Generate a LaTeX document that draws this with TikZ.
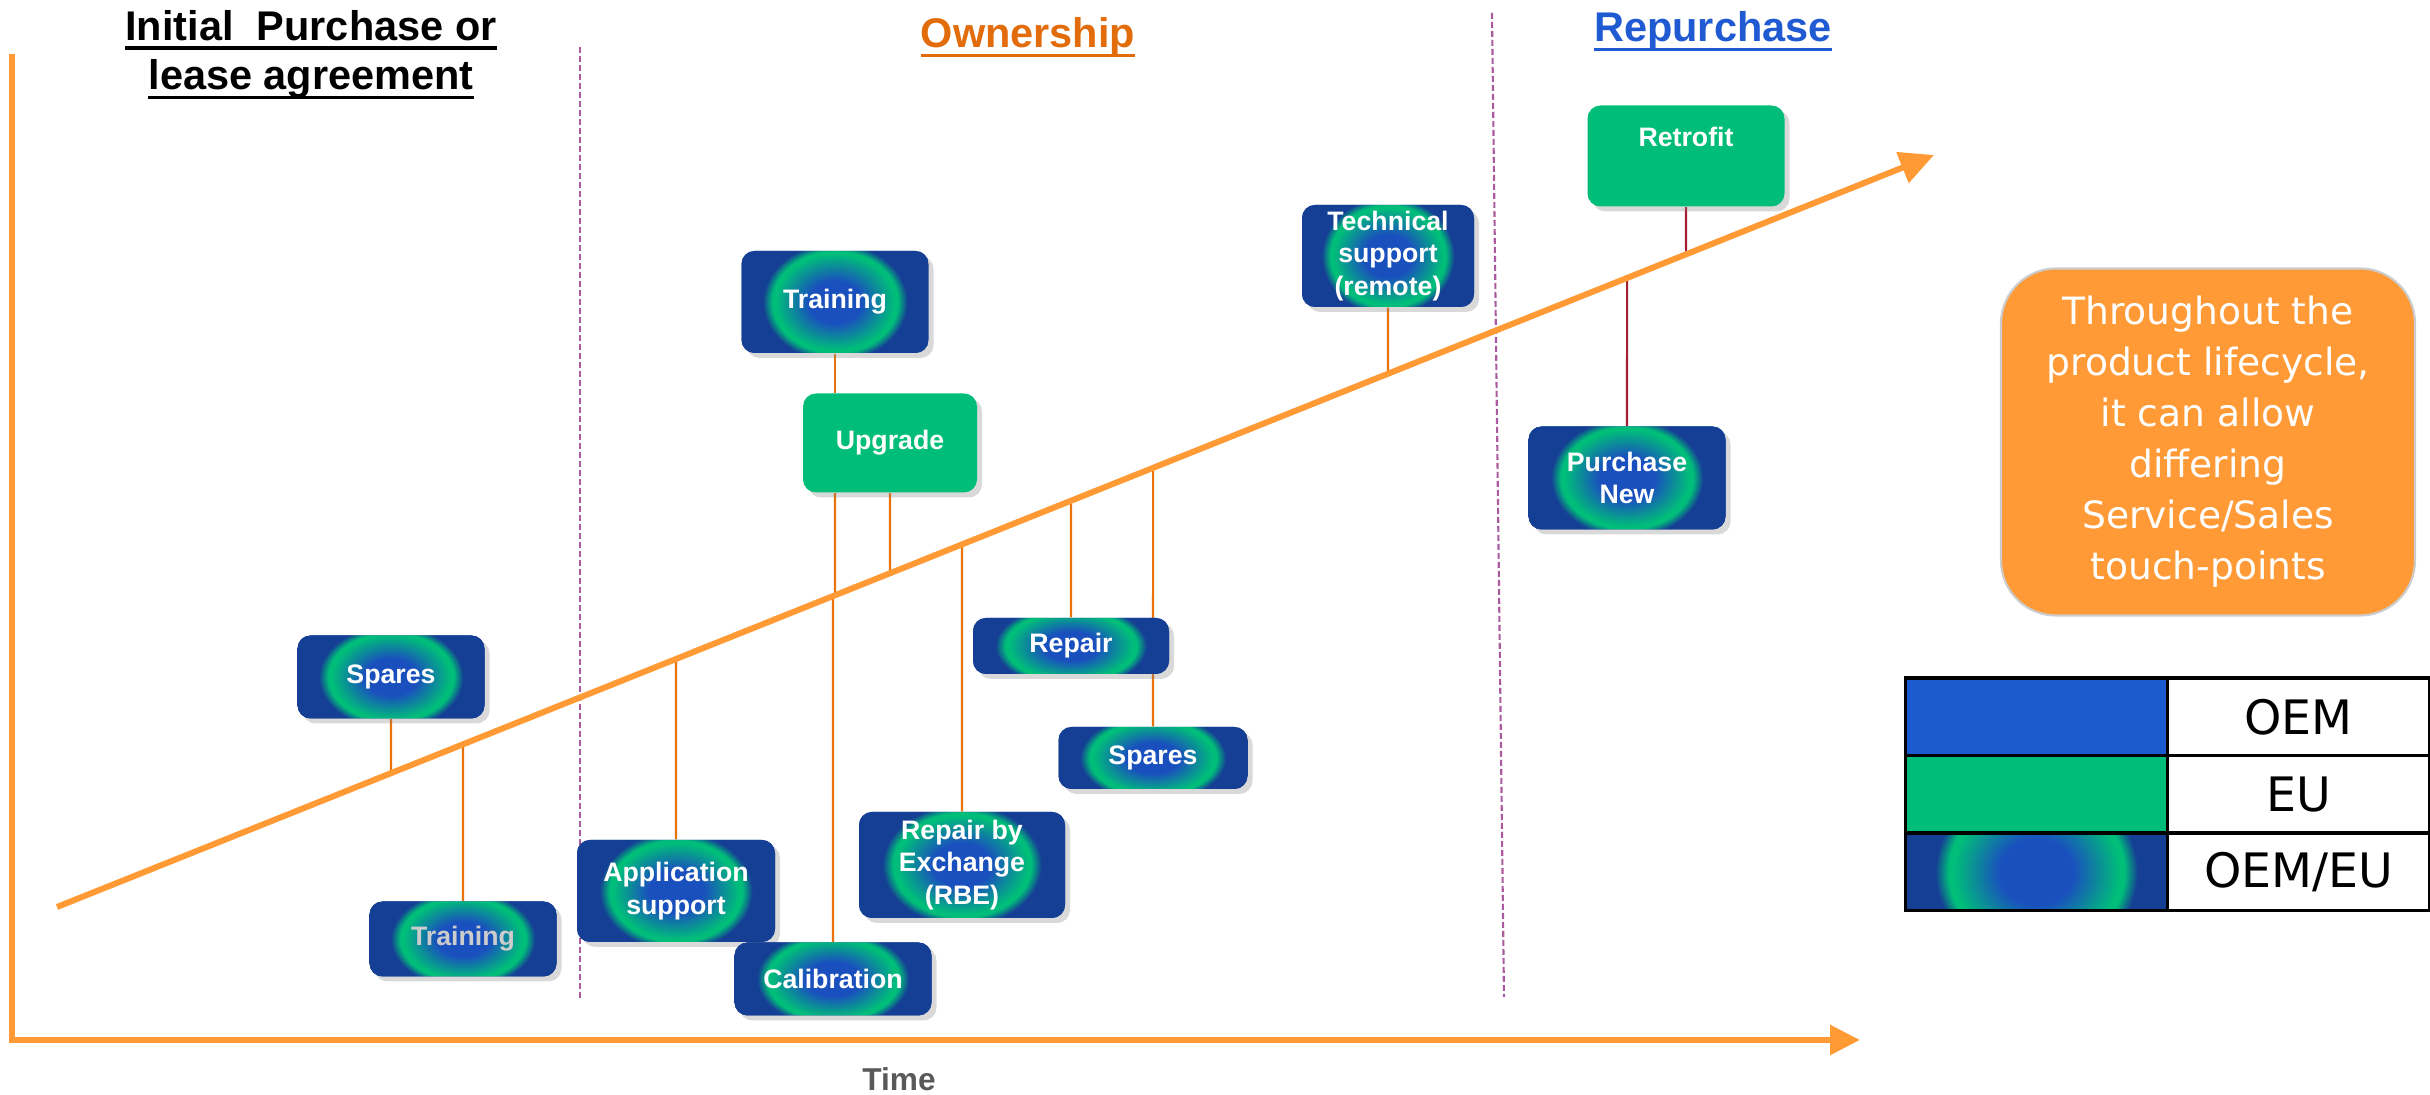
\documentclass[tikz,border=0pt]{standalone}
\usepackage{fontspec}
\setmainfont{Liberation Sans}
\newfontfamily\verd{DejaVu Sans}
\usepackage{tikz}
\usetikzlibrary{positioning,arrows.meta,shadows,backgrounds}
\definecolor{lineorange}{HTML}{FF9A35}
\definecolor{darkorange}{HTML}{E8720C}
\definecolor{wine}{HTML}{A31F34}
\definecolor{oemdark}{HTML}{153F95}
\definecolor{oemmid}{HTML}{1A50BE}
\definecolor{oemblue}{HTML}{1B5BCF}
\definecolor{eugreen}{HTML}{00BD7A}
\definecolor{phasecol}{HTML}{AA5A9F}
\definecolor{owncol}{HTML}{E36C0A}
\definecolor{repcol}{HTML}{1F5AD2}
\definecolor{timegrey}{HTML}{595959}
\definecolor{notefill}{HTML}{FF9A36}
\pgfdeclareradialshading{ring}{\pgfpoint{0bp}{0bp}}{color(0bp)=(oemmid); color(7bp)=(oemmid); color(15.8bp)=(eugreen); color(16.8bp)=(eugreen); color(19.3bp)=(oemdark); color(50bp)=(oemdark)}
\newsavebox{\ttlbox}
\newcommand{\ttl}[1]{\sbox{\ttlbox}{#1}\rlap{\rule[-2.7pt]{\wd\ttlbox}{1.1pt}}\usebox{\ttlbox}}
\tikzstyle{box}=[rounded corners=0.13cm, inner sep=0pt, align=center, text=white,
                 font=\bfseries\fontsize{7.6}{9.2}\selectfont,
                 drop shadow={shadow xshift=0.05cm,shadow yshift=-0.05cm,opacity=0.3}]
\tikzstyle{eu}=[box, fill=eugreen]
\tikzstyle{heading}=[font=\bfseries\fontsize{11.8}{14}\selectfont, inner sep=0pt, align=center]
\tikzstyle{trend}=[draw=lineorange, line width=0.06cm, -{Triangle[length=0.34cm,width=0.32cm]}]
\tikzstyle{timeline}=[draw=lineorange, line width=0.06cm, line join=miter, -{Triangle[length=0.30cm,width=0.29cm]}]
\tikzstyle{link}=[draw=darkorange, line width=0.6pt]
\tikzstyle{redlink}=[draw=wine, line width=0.6pt]
\tikzstyle{divider}=[draw=phasecol, line width=0.6pt, dash pattern=on 0.06cm off 0.03cm]
\tikzstyle{cell}=[draw=black, line width=1pt, minimum width=2.62cm, minimum height=0.775cm,
                  inner sep=0pt, outer sep=0pt, font=\verd\fontsize{13.5}{16}\selectfont]
\tikzstyle{note}=[rounded corners=0.55cm, fill=notefill, draw=black!20, line width=0.6pt,
                  text=white, align=center, inner sep=0pt, minimum width=4.14cm, minimum height=3.47cm,
                  font=\verd\fontsize{10.7}{14.5}\selectfont]
\tikzset{ringfill/.style={path picture={\shade[shading=ring]
           ([yshift=-#1]path picture bounding box.south west) rectangle
           ([yshift=#1]path picture bounding box.north east);}},
         ringfill/.default=0.25cm,
         mix/.style={box, fill=oemdark, postaction={ringfill}}}

\begin{document}
\begin{tikzpicture}
	\useasboundingbox (0,0) rectangle (24.30,10.95);

	% phase headings
	\node at(3.11,10.85)[heading,anchor=north](initTitle){\ttl{Initial~ Purchase or}\\\ttl{lease agreement}};
	\node at(10.28,10.47)[heading,anchor=base,text=owncol](ownTitle){\ttl{Ownership}};
	\node at(17.13,10.53)[heading,anchor=base,text=repcol](repTitle){\ttl{Repurchase}};

	% touch-points
	\node at(3.91,4.18)[mix,minimum width=1.87cm,minimum height=0.83cm](sparesA){Spares};
	\node at(4.63,1.56)[mix,minimum width=1.87cm,minimum height=0.75cm,text=black!20](trainA){Training};
	\node at(6.76,2.04)[mix,minimum width=1.98cm,minimum height=1.02cm](appsup){Application\\support};
	\node at(8.33,1.16)[mix,minimum width=1.97cm,minimum height=0.73cm](calib){Calibration};
	\node at(8.35,7.93)[mix,minimum width=1.87cm,minimum height=1.02cm](trainB){Training};
	\node at(8.90,6.52)[eu,minimum width=1.74cm,minimum height=0.99cm](upgrade){Upgrade};
	\node at(9.62,2.30)[mix,minimum width=2.06cm,minimum height=1.06cm](rbe){Repair by\\Exchange\\(RBE)};
	\node at(10.71,4.49)[mix,minimum width=1.96cm,minimum height=0.56cm](repair){Repair};
	\node at(11.53,3.37)[mix,minimum width=1.89cm,minimum height=0.62cm](sparesB){Spares};
	\node at(13.88,8.39)[mix,minimum width=1.72cm,minimum height=1.02cm](techsup){Technical\\support\\(remote)};
	\node at(16.86,9.39)[eu,minimum width=1.97cm,minimum height=1.01cm,text height=0.2cm,text depth=0.39cm](retrofit){Retrofit};
	\node at(16.27,6.17)[mix,minimum width=1.97cm,minimum height=1.03cm](purchnew){Purchase\\New};

	\node at(22.08,6.53)[note](summary){Throughout the\\product lifecycle,\\it can allow\\differing\\Service/Sales\\touch-points};

	% legend
	\node at(20.365,3.78)[cell,fill=oemblue](keyOEM){};
	\node[cell,right=0pt of keyOEM](labOEM){OEM};
	\node[cell,fill=eugreen,below=0pt of keyOEM](keyEU){};
	\node[cell,right=0pt of keyEU](labEU){EU};
	\node[cell,fill=oemdark,ringfill=0.8cm,below=0pt of keyEU](keyMIX){};
	\node[cell,right=0pt of keyMIX](labMIX){OEM/EU};

	\node at(8.99,0.16)[font=\bfseries\fontsize{9}{11}\selectfont,text=timegrey,inner sep=0pt](timeLabel){Time};

	\coordinate (yTop) at (0.12,10.41);
	\coordinate (corner) at (0.12,0.55);
	\coordinate (xEnd) at (18.60,0.55);
	\coordinate (d0) at (0.57,1.88);
	\coordinate (d1) at (19.34,9.40);
	\coordinate (sepA1) at (5.80,10.48);
	\coordinate (sepA2) at (5.80,0.95);
	\coordinate (sepB1) at (14.92,10.82);
	\coordinate (sepB2) at (15.04,0.98);

	\begin{scope}[on background layer]
		\draw[divider] (sepA1) -- (sepA2);
		\draw[divider] (sepB1) -- (sepB2);

		\draw[link] (sparesA.south) -- (intersection of sparesA.north--sparesA.south and d0--d1);
		\draw[link] (trainA.north) -- (intersection of trainA.north--trainA.south and d0--d1);
		\draw[link] (appsup.north) -- (intersection of appsup.north--appsup.south and d0--d1);
		\draw[link] (calib.north) -- (intersection of calib.north--calib.south and d0--d1);
		\draw[link] (trainB.south) -- (trainB.south |- upgrade.north);
		\draw[link] (upgrade.south -| trainB.south) -- (intersection of trainB.north--trainB.south and d0--d1);
		\draw[link] (upgrade.south) -- (intersection of upgrade.north--upgrade.south and d0--d1);
		\draw[link] (rbe.north) -- (intersection of rbe.north--rbe.south and d0--d1);
		\draw[link] (repair.north) -- (intersection of repair.north--repair.south and d0--d1);
		\draw[link] (sparesB.north) -- (intersection of sparesB.north--sparesB.south and d0--d1);
		\draw[link] (techsup.south) -- (intersection of techsup.north--techsup.south and d0--d1);
		\draw[redlink] (retrofit.south) -- (intersection of retrofit.north--retrofit.south and d0--d1);
		\draw[redlink] (purchnew.north) -- (intersection of purchnew.north--purchnew.south and d0--d1);

		\draw[timeline] (yTop) -- (corner) -- (xEnd);
		\draw[trend] (d0) -- (d1);
	\end{scope}
\end{tikzpicture}
\end{document}
